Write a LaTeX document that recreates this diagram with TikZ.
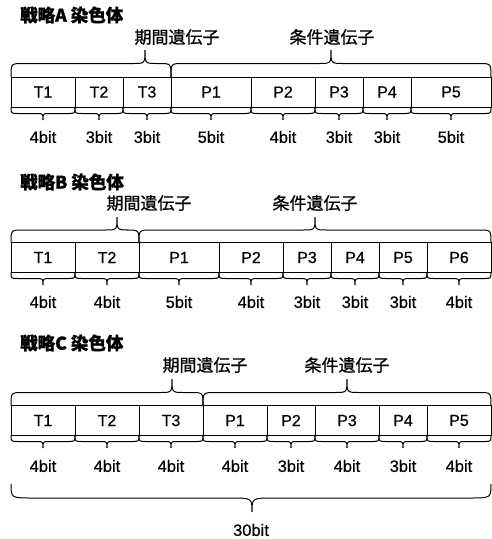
\documentclass[tikz,border=0pt]{standalone}
\usepackage{fontspec}
\setmainfont{Liberation Sans}[FakeBold=0.4]
\newfontfamily\cjk[FakeBold=0.7]{Noto Sans CJK JP}
\newfontfamily\cjkt[FakeBold=1.2]{Noto Sans CJK JP}
\tikzset{
  seg/.style={draw=black, line width=1pt, minimum height=30pt, inner sep=0pt, anchor=center, font=\fontsize{16}{16}\selectfont},
  bitlbl/.style={inner sep=0pt, anchor=center, font=\fontsize{16.5}{16.5}\selectfont},
  gene/.style={inner sep=0pt, anchor=center, font=\fontsize{17}{17}\cjk},
  ttl/.style={inner sep=0pt, anchor=west, font=\fontsize{17.5}{17.5}\cjkt\bfseries},
  brace/.style={draw=black, line width=1pt},
}
% curly brace: x1, x2, tip x, base y, height (positive = up), corner size
\newcommand\cbr[6]{%
  \draw[brace] ({#1},{#4}) .. controls ({#1},{#4-(#5)}) .. ({#1+#6},{#4-(#5)})
    -- ({#3-#6},{#4-(#5)}) .. controls ({#3},{#4-(#5)}) .. ({#3},{#4-2*(#5)})
    .. controls ({#3},{#4-(#5)}) .. ({#3+#6},{#4-(#5)})
    -- ({#2-#6},{#4-(#5)}) .. controls ({#2},{#4-(#5)}) .. ({#2},{#4});%
}
\begin{document}
\begin{tikzpicture}[x=1pt,y=-1pt]
\useasboundingbox (0,0) rectangle (492,539);
% ---------- Strategy A
\node[ttl] (tA) at (20,15) {戦略A 染色体};
\node[gene] (gA1) at (177,37) {期間遺伝子};
\node[gene] (gA2) at (332,37) {条件遺伝子};
\cbr{11}{171}{145}{77}{13.5}{12}
\cbr{171}{491}{331}{77}{13.5}{12}
\foreach \xa/\xb/\t/\b [count=\i] in {11/75/T1/4,75/123/T2/3,123/171/T3/3,171/251/P1/5,251/315/P2/4,315/363/P3/3,363/411/P4/3,411/491/P5/5}{
  \node[seg, minimum width={\xb-\xa}] (A\i) at ({(\xa+\xb)/2},92) {\t};
  \cbr{\xa}{\xb}{(\xa+\xb)/2}{107}{-6.5}{7}
  \node[bitlbl] (Ab\i) at ({(\xa+\xb)/2},137) {\b bit};
}
% ---------- Strategy B
\node[ttl] (tB) at (20,182) {戦略B 染色体};
\node[gene] (gB1) at (149,203) {期間遺伝子};
\node[gene] (gB2) at (315,203) {条件遺伝子};
\cbr{11}{139}{117}{243}{13}{12}
\cbr{139}{491}{315}{243}{13}{12}
\foreach \xa/\xb/\t/\b [count=\i] in {11/75/T1/4,75/139/T2/4,139/219/P1/5,219/283/P2/4,283/331/P3/3,331/379/P4/3,379/427/P5/3,427/491/P6/4}{
  \node[seg, minimum width={\xb-\xa}] (B\i) at ({(\xa+\xb)/2},257.5) {\t};
  \cbr{\xa}{\xb}{(\xa+\xb)/2}{272}{-6.5}{7}
  \node[bitlbl] (Bb\i) at ({(\xa+\xb)/2},302) {\b bit};
}
% ---------- Strategy C
\node[ttl] (tC) at (20,343) {戦略C 染色体};
\node[gene] (gC1) at (205,365) {期間遺伝子};
\node[gene] (gC2) at (347,365) {条件遺伝子};
\cbr{11}{203}{172}{406}{13.5}{12}
\cbr{203}{491}{347}{406}{13.5}{12}
\foreach \xa/\xb/\t/\b [count=\i] in {11/75/T1/4,75/139/T2/4,139/203/T3/4,203/267/P1/4,267/315/P2/3,315/379/P3/4,379/427/P4/3,427/491/P5/4}{
  \node[seg, minimum width={\xb-\xa}] (C\i) at ({(\xa+\xb)/2},420.5) {\t};
  \cbr{\xa}{\xb}{(\xa+\xb)/2}{435}{-6.5}{7}
  \node[bitlbl] (Cb\i) at ({(\xa+\xb)/2},466) {\b bit};
}
\cbr{11}{491}{252}{484}{-14}{22}
\node[bitlbl] (total) at (251,530) {30bit};
\end{tikzpicture}
\end{document}
